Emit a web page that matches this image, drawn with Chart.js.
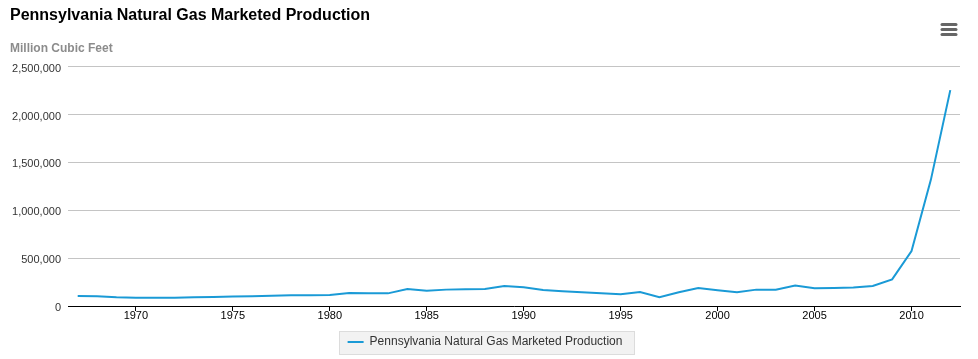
<!DOCTYPE html>
<html>
<head>
<meta charset="utf-8">
<script src="https://cdn.jsdelivr.net/npm/chart.js@4.4.1/dist/chart.umd.min.js"></script>
<style>
  html, body { margin: 0; padding: 0; background: #fff; }
  #wrap { position: relative; width: 978px; height: 359px; }
  canvas { display: block; }
</style>
</head>
<body>
<div id="wrap"><canvas id="c" width="978" height="359"></canvas></div>
<script>
const chartTitle = "Pennsylvania Natural Gas Marketed Production";
const unitLabel = "Million Cubic Feet";
const seriesName = "Pennsylvania Natural Gas Marketed Production";
const years = [1967, 1968, 1969, 1970, 1971, 1972, 1973, 1974, 1975, 1976,
  1977, 1978, 1979, 1980, 1981, 1982, 1983, 1984, 1985, 1986,
  1987, 1988, 1989, 1990, 1991, 1992, 1993, 1994, 1995, 1996,
  1997, 1998, 1999, 2000, 2001, 2002, 2003, 2004, 2005, 2006,
  2007, 2008, 2009, 2010, 2011, 2012];
const production = [104000, 101000, 91000, 87000, 87000, 85000, 91000, 94000, 98000, 101000,
  108000, 113000, 113000, 115000, 136000, 134000, 132000, 178000, 160000, 171000,
  176000, 178000, 209000, 195000, 167000, 153000, 143000, 132000, 122000, 146000,
  91000, 143000, 188000, 164000, 143000, 171000, 171000, 213000, 185000, 189000,
  192000, 209000, 278000, 574000, 1320000, 2254000];
const yTicks = [0, 500000, 1000000, 1500000, 2000000, 2500000];
const labeledYears = [1970, 1975, 1980, 1985, 1990, 1995, 2000, 2005, 2010];

const lineColor = '#1a9ad6';
const fontFam = '"Liberation Sans", Arial, Helvetica, sans-serif';

const extras = {
  id: 'extras',
  beforeDraw(chart) {
    const ctx = chart.ctx;
    const lg = chart.legend;
    if (lg && lg.legendHitBoxes && lg.legendHitBoxes.length) {
      const h = lg.legendHitBoxes[0];
      ctx.save();
      ctx.fillStyle = '#f2f2f2';
      ctx.strokeStyle = '#dcdcdc';
      ctx.lineWidth = 1;
      const x = Math.round(h.left - 9) + 0.5, y = Math.round(h.top - 5) + 0.5;
      const w = Math.round(h.width + 20), hh = Math.round(h.height + 11);
      ctx.fillRect(x, y, w, hh);
      ctx.strokeRect(x, y, w, hh);
      ctx.restore();
    }
  },
  afterDraw(chart) {
    const ctx = chart.ctx;
    ctx.save();
    ctx.strokeStyle = '#666';
    ctx.lineWidth = 3;
    ctx.lineCap = 'round';
    [24.5, 29.5, 34.5].forEach(y => {
      ctx.beginPath();
      ctx.moveTo(942, y);
      ctx.lineTo(956, y);
      ctx.stroke();
    });
    ctx.restore();
  }
};

new Chart(document.getElementById('c'), {
  type: 'line',
  data: {
    labels: years,
    datasets: [{
      label: seriesName,
      data: production,
      borderColor: lineColor,
      backgroundColor: lineColor,
      borderWidth: 2,
      pointRadius: 0,
      pointHoverRadius: 0,
      tension: 0,
      fill: false
    }]
  },
  options: {
    responsive: false,
    animation: false,
    events: [],
    layout: { padding: { left: 10, right: 18, top: 6, bottom: 1 } },
    plugins: {
      title: {
        display: true,
        text: chartTitle,
        align: 'start',
        color: '#000',
        font: { family: fontFam, size: 16, weight: 'bold' },
        padding: { top: 0, bottom: 16 }
      },
      subtitle: {
        display: true,
        text: unitLabel,
        align: 'start',
        color: '#8c8c8c',
        font: { family: fontFam, size: 12, weight: 'bold' },
        padding: { top: 0, bottom: 11 }
      },
      legend: {
        display: true,
        position: 'bottom',
        labels: {
          boxWidth: 16,
          boxHeight: 2,
          color: '#333',
          font: { family: fontFam, size: 12 },
          padding: 6,
          generateLabels: (chart) => chart.data.datasets.map((ds, i) => ({
            text: ds.label,
            fillStyle: ds.borderColor,
            strokeStyle: ds.borderColor,
            lineWidth: 0,
            fontColor: '#333',
            hidden: false,
            datasetIndex: i
          }))
        }
      },
      tooltip: { enabled: false }
    },
    scales: {
      x: {
        type: 'category',
        offset: true,
        afterFit: (s) => { s.height = 24; },
        grid: {
          display: true,
          drawOnChartArea: false,
          offset: false,
          tickLength: 5,
          color: (ctx) => (ctx.tick && labeledYears.includes(years[ctx.index])) ? '#000' : 'rgba(0,0,0,0)'
        },
        border: { display: true, color: '#000', width: 1 },
        ticks: {
          autoSkip: false,
          maxRotation: 0,
          color: '#000',
          font: { family: fontFam, size: 11 },
          padding: -2,
          callback: function(val, idx) {
            const yr = years[idx];
            return labeledYears.includes(yr) ? String(yr) : '';
          }
        }
      },
      y: {
        min: 0,
        max: 2500000,
        afterBuildTicks: (scale) => { scale.ticks = yTicks.map(v => ({ value: v })); },
        afterFit: (s) => { s.width = 58; },
        grid: { color: '#c4c4c4', drawTicks: false, lineWidth: 1 },
        border: { display: false },
        ticks: {
          color: '#333',
          font: { family: fontFam, size: 11 },
          padding: 7,
          labelOffset: 2,
          callback: v => v.toLocaleString('en-US')
        }
      }
    }
  },
  plugins: [extras]
});
</script>
</body>
</html>
